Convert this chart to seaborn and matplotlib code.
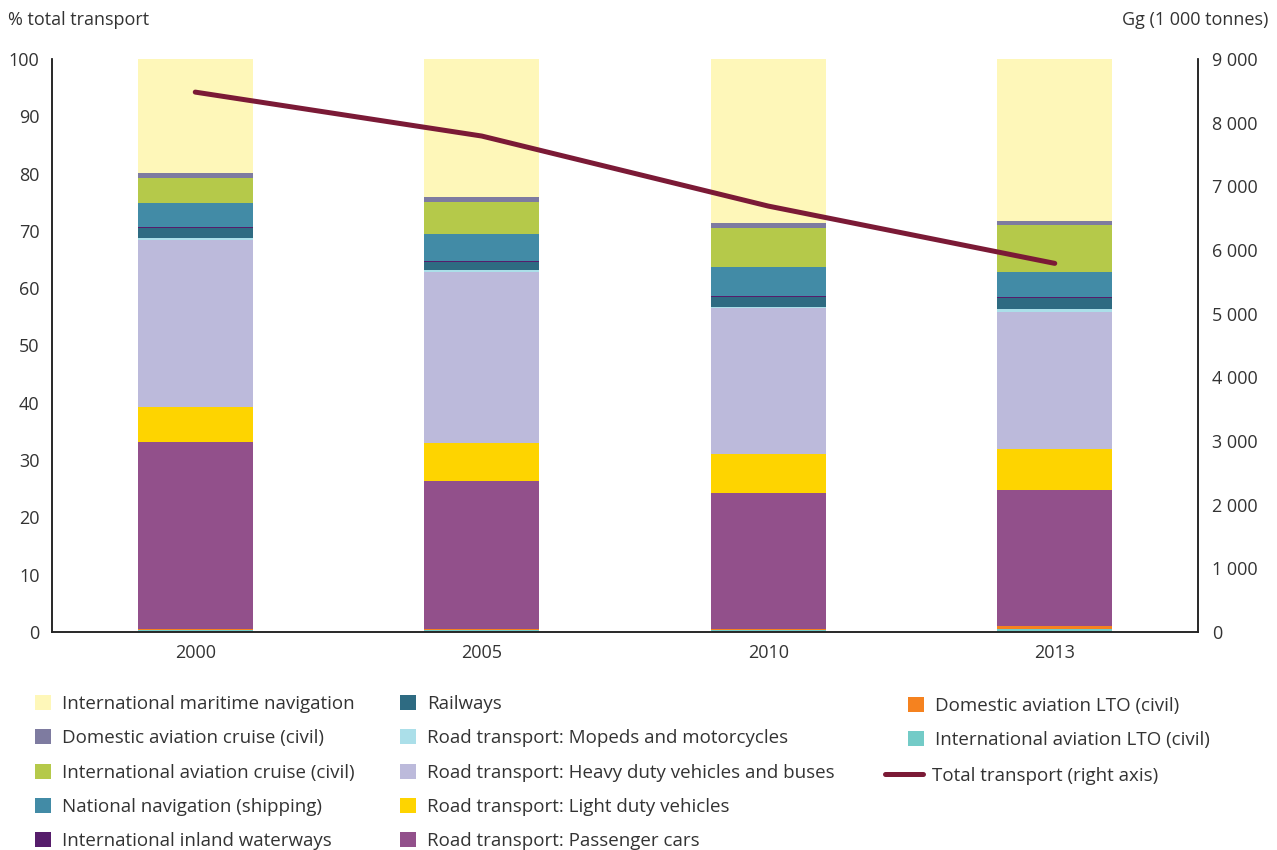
import numpy as np
import pandas as pd
import matplotlib.pyplot as plt
import seaborn as sns
from matplotlib.patches import Patch
from matplotlib.lines import Line2D
from matplotlib.ticker import FuncFormatter

# ==========================================
# Data (share of total transport emissions, %)
# ==========================================
years = ['2000', '2005', '2010', '2013']

maritime = [19.9, 24.1, 28.7, 28.3]
dom_cruise = [0.9, 0.8, 0.8, 0.7]
intl_cruise = [4.4, 5.7, 6.8, 8.2]
national_nav = [4.1, 4.7, 5.0, 4.3]
inland_waterways = [0.2, 0.2, 0.3, 0.2]
railways = [1.7, 1.4, 1.6, 1.9]
mopeds = [0.4, 0.3, 0.3, 0.5]
heavy_duty = [29.1, 29.8, 25.4, 23.9]
light_duty = [6.1, 6.6, 6.8, 7.2]
passenger_cars = [32.6, 25.8, 23.7, 23.8]
dom_lto = [0.3, 0.3, 0.3, 0.4]
intl_lto = [0.3, 0.3, 0.3, 0.6]

# total transport, Gg (right axis)
total_gg = [8480, 7790, 6690, 5790]

# legend order = stack order from top to bottom
labels = [
    'International maritime navigation',
    'Domestic aviation cruise (civil)',
    'International aviation cruise (civil)',
    'National navigation (shipping)',
    'International inland waterways',
    'Railways',
    'Road transport: Mopeds and motorcycles',
    'Road transport: Heavy duty vehicles and buses',
    'Road transport: Light duty vehicles',
    'Road transport: Passenger cars',
    'Domestic aviation LTO (civil)',
    'International aviation LTO (civil)',
]
series = [maritime, dom_cruise, intl_cruise, national_nav, inland_waterways,
          railways, mopeds, heavy_duty, light_duty, passenger_cars,
          dom_lto, intl_lto]
colors = ['#fef7b9', '#7e7ba0', '#b5c94a', '#428ba6', '#561d6b', '#2e6b82',
          '#abdfe9', '#bcbadb', '#fed400', '#92508b', '#f5821f', '#73cbc7']
LINE_COLOR = '#7b1a36'
TEXT_COLOR = '#333333'
FONT_SIZE = 13
LEGEND_SIZE = 13.5

# long table for seaborn
rows = []
for lab, vals in zip(labels, series):
    for i, v in enumerate(vals):
        rows.append({'pos': i, 'category': lab, 'share': v})
df = pd.DataFrame(rows)

# ==========================================
# Plot
# ==========================================
sns.set_style('white')
plt.rcParams['font.family'] = ['Open Sans', 'DejaVu Sans']
plt.rcParams['text.color'] = TEXT_COLOR
plt.rcParams['xtick.color'] = TEXT_COLOR
plt.rcParams['ytick.color'] = TEXT_COLOR

fig, ax = plt.subplots(figsize=(12.77, 8.5), dpi=100)
fig.subplots_adjust(left=52 / 1277, right=1198 / 1277,
                    bottom=1 - 632 / 850, top=1 - 59 / 850)

sns.histplot(data=df, x='pos', weights='share', hue='category',
             hue_order=labels, palette=dict(zip(labels, colors)),
             multiple='stack', discrete=True, shrink=0.4, alpha=1,
             linewidth=0, legend=False, ax=ax)

ax.set_xlim(-0.5, 3.5)
ax.set_ylim(0, 100)
ax.set_xticks(range(len(years)))
ax.set_xticklabels(years, fontsize=FONT_SIZE)
ax.set_yticks(np.arange(0, 101, 10))
ax.tick_params(axis='y', labelsize=FONT_SIZE, length=0, pad=9)
ax.tick_params(axis='x', length=0, pad=9)
ax.set_xlabel('')
ax.set_ylabel('')

ax2 = ax.twinx()
sns.lineplot(x=list(range(len(years))), y=total_gg, ax=ax2, color=LINE_COLOR,
             linewidth=3.6, solid_capstyle='round')
ax2.set_ylim(0, 9000)
ax2.set_yticks(np.arange(0, 9001, 1000))
ax2.yaxis.set_major_formatter(FuncFormatter(lambda v, p: f'{int(v):,}'.replace(',', ' ')))
ax2.tick_params(axis='y', labelsize=FONT_SIZE, length=0, pad=10)

for a in (ax, ax2):
    a.spines['top'].set_visible(False)
    for s in ('left', 'right', 'bottom'):
        a.spines[s].set_color('#222222')
        a.spines[s].set_linewidth(1.1)

fig.text(8 / 1277, 1 - 20 / 850, '% total transport', fontsize=FONT_SIZE,
         ha='left', va='center')
fig.text(1268 / 1277, 1 - 20 / 850, 'Gg (1 000 tonnes)', fontsize=FONT_SIZE,
         ha='right', va='center')

# --- Legend (three columns under the chart) ---
handles = [Patch(facecolor=c, edgecolor='none') for c in colors]
leg_kw = dict(frameon=False, fontsize=LEGEND_SIZE, loc='upper left',
              borderaxespad=0, borderpad=0, handlelength=0.85,
              handleheight=0.85, handletextpad=0.6, labelspacing=0.87,
              labelcolor=TEXT_COLOR)
col_x = [35, 400, 908]
top_y = 1 - 695 / 850
fig.legend(handles[:5], labels[:5], bbox_to_anchor=(col_x[0] / 1277, top_y), **leg_kw)
fig.legend(handles[5:10], labels[5:10], bbox_to_anchor=(col_x[1] / 1277, top_y), **leg_kw)
fig.legend(handles[10:], labels[10:], bbox_to_anchor=(col_x[2] / 1277, 1 - 697 / 850), **leg_kw)
line_kw = dict(leg_kw, handlelength=2.0, handletextpad=0.5)
fig.legend([Line2D([], [], color=LINE_COLOR, linewidth=3.6, solid_capstyle='round')],
           ['Total transport (right axis)'],
           bbox_to_anchor=(885 / 1277, 1 - 767 / 850), **line_kw)

fig.savefig('out.png', dpi=100)
